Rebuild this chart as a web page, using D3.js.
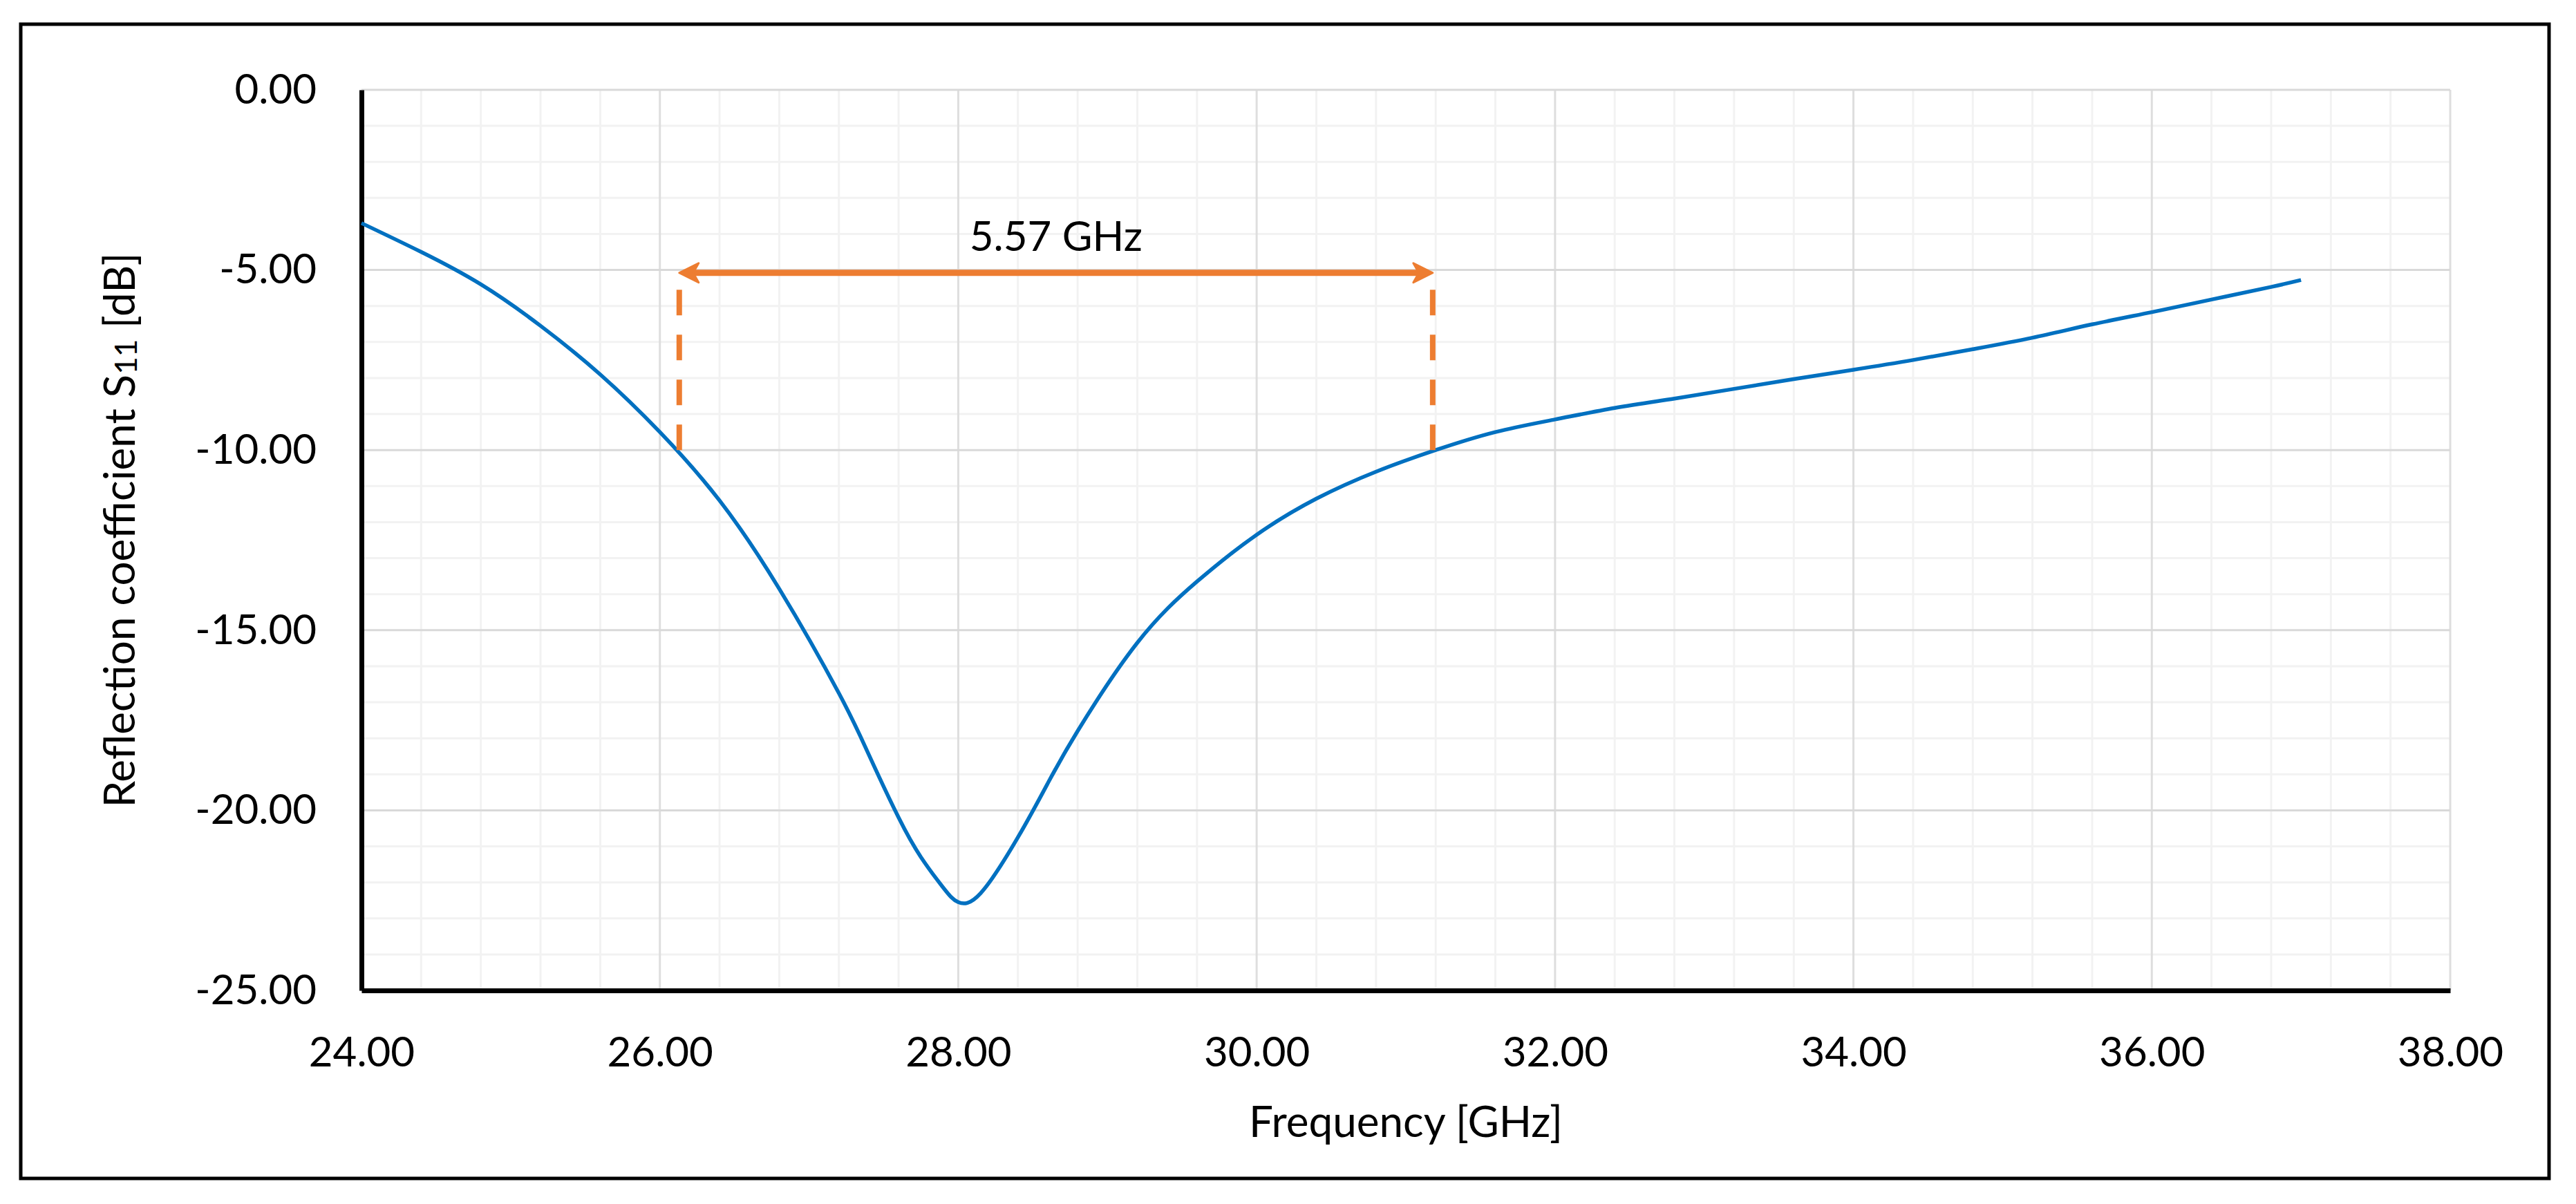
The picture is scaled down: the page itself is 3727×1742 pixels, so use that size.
<!DOCTYPE html>
<html>
<head>
<meta charset="utf-8">
<script src="https://cdn.jsdelivr.net/npm/d3@7"></script>
<style>
  html, body { margin: 0; padding: 0; background: #fff; }
  text { font-family: Lato, "Open Sans", sans-serif; fill: #000; }
</style>
</head>
<body>
<svg id="chart" width="3727" height="1742"></svg>
<script>
// S11 readings (GHz, dB) taken off the plot
const freq = [24.0, 24.4, 24.8, 25.2, 25.6, 26.0, 26.4, 26.8, 27.2, 27.4, 27.6, 27.75, 27.9, 28.0,
  28.15, 28.4, 28.6, 28.8, 29.2, 29.6, 30.0, 30.4, 30.8, 31.2, 31.6, 32.0, 32.4, 32.8,
  33.2, 33.6, 34.0, 34.4, 34.8, 35.2, 35.6, 36.0, 36.4, 36.8, 37.0];
const s11 = [-3.70, -4.50, -5.40, -6.55, -7.90, -9.50, -11.40, -13.85, -16.75, -18.45, -20.20, -21.30, -22.15, -22.55,
  -22.30, -20.75, -19.25, -17.80, -15.35, -13.65, -12.35, -11.35, -10.60, -10.00, -9.50, -9.15, -8.83, -8.57,
  -8.30, -8.03, -7.77, -7.50, -7.20, -6.88, -6.51, -6.17, -5.82, -5.47, -5.28];

const xTicks = [24, 26, 28, 30, 32, 34, 36, 38];
const yTicks = [0, -5, -10, -15, -20, -25];

// bandwidth annotation
const bandEdges = [26.13, 31.18];
const arrowLevel = -5.08;
const dashTop = -5.55;
const threshold = -10;
const bandLabel = "5.57 GHz";

const xTitle = "Frequency [GHz]";
const yTitle = ["Reflection coefficient S", "11", " [dB]"];

const W = 3727, H = 1742;
const plot = { left: 523, right: 3545, top: 130, bottom: 1433 };

const svg = d3.select("#chart");
svg.append("rect").attr("width", W).attr("height", H).attr("fill", "#fff");

// outer frame
svg.append("rect")
  .attr("x", 30).attr("y", 35).attr("width", 3658).attr("height", 1670)
  .attr("fill", "none").attr("stroke", "#000").attr("stroke-width", 5);

const x = d3.scaleLinear().domain([24, 38]).range([plot.left, plot.right]);
const y = d3.scaleLinear().domain([-25, 0]).range([plot.bottom, plot.top]);

// grid: minor every 0.4 GHz / 1 dB, major on the ticks
const xMinor = d3.range(24, 38.001, 0.4).filter(v => Math.abs(v / 2 - Math.round(v / 2)) > 1e-6);
const yMinor = d3.range(-25, 0.001, 1).filter(v => v % 5 !== 0);

const grid = svg.append("g");
grid.selectAll(".vmin").data(xMinor).join("line")
  .attr("x1", d => x(d)).attr("x2", d => x(d)).attr("y1", plot.top).attr("y2", plot.bottom)
  .attr("stroke", "#f2f2f2").attr("stroke-width", 3);
grid.selectAll(".hmin").data(yMinor).join("line")
  .attr("x1", plot.left).attr("x2", plot.right).attr("y1", d => y(d)).attr("y2", d => y(d))
  .attr("stroke", "#f2f2f2").attr("stroke-width", 3);
grid.selectAll(".vmaj").data(xTicks).join("line")
  .attr("x1", d => x(d)).attr("x2", d => x(d)).attr("y1", plot.top).attr("y2", plot.bottom)
  .attr("stroke", "#dedede").attr("stroke-width", 3);
grid.selectAll(".hmaj").data(yTicks).join("line")
  .attr("x1", plot.left).attr("x2", plot.right).attr("y1", d => y(d)).attr("y2", d => y(d))
  .attr("stroke", "#d9d9d9").attr("stroke-width", 3);

// axes
const fmt = d => d.toFixed(2);
const xAxis = svg.append("g")
  .attr("transform", `translate(0,${plot.bottom})`)
  .call(d3.axisBottom(x).tickValues(xTicks).tickFormat(fmt).tickSize(0).tickPadding(67));
const yAxis = svg.append("g")
  .attr("transform", `translate(${plot.left},0)`)
  .call(d3.axisLeft(y).tickValues(yTicks).tickFormat(fmt).tickSize(0).tickPadding(65));

[xAxis, yAxis].forEach(g => {
  g.select(".domain").attr("stroke", "#000").attr("stroke-width", 7);
  g.selectAll(".tick text").attr("font-size", 60).attr("font-family", "Lato, sans-serif").attr("fill", "#000");
});

// S11 curve
const pts = freq.map((f, i) => [f, s11[i]]);
svg.append("path")
  .datum(pts)
  .attr("fill", "none")
  .attr("stroke", "#0070c0")
  .attr("stroke-width", 5.5)
  .attr("stroke-linejoin", "round")
  .attr("d", d3.line().x(d => x(d[0])).y(d => y(d[1])).curve(d3.curveNatural));

// -10 dB markers
const orange = "#ed7d31";
svg.selectAll(".band").data(bandEdges).join("line")
  .attr("x1", d => x(d)).attr("x2", d => x(d))
  .attr("y1", y(threshold)).attr("y2", y(dashTop))
  .attr("stroke", orange).attr("stroke-width", 8)
  .attr("stroke-dasharray", "37,28");

const ay = y(arrowLevel);
const x0 = x(bandEdges[0]), x1 = x(bandEdges[1]);
svg.append("line")
  .attr("x1", x0 + 18).attr("x2", x1 - 18).attr("y1", ay).attr("y2", ay)
  .attr("stroke", orange).attr("stroke-width", 9);
// arrow heads
[[x0, 1], [x1, -1]].forEach(([tx, dir]) => {
  svg.append("path")
    .attr("d", `M${tx},${ay} L${tx + dir * 28},${ay - 14} L${tx + dir * 20},${ay} L${tx + dir * 28},${ay + 14} Z`)
    .attr("fill", orange).attr("stroke", orange).attr("stroke-width", 3).attr("stroke-linejoin", "round");
});

svg.append("text")
  .attr("x", (x0 + x1) / 2).attr("y", 363)
  .attr("text-anchor", "middle").attr("font-size", 60)
  .text(bandLabel);

// axis titles
svg.append("text")
  .attr("x", (plot.left + plot.right) / 2).attr("y", 1645)
  .attr("text-anchor", "middle").attr("font-size", 62)
  .text(xTitle);

const yt = svg.append("text")
  .attr("transform", "translate(195,767) rotate(-90)")
  .attr("text-anchor", "middle").attr("font-size", 62);
yt.append("tspan").text(yTitle[0]);
yt.append("tspan").attr("font-size", 44).attr("dy", 3).text(yTitle[1]);
yt.append("tspan").attr("dy", -3).text(yTitle[2]);
</script>
</body>
</html>
